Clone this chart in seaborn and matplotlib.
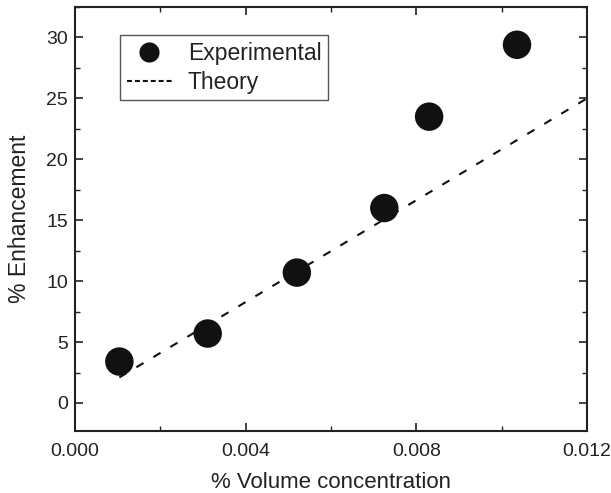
import matplotlib
matplotlib.use("Agg")
import matplotlib.pyplot as plt
import seaborn as sns
import pandas as pd
from matplotlib.lines import Line2D
from matplotlib.ticker import MultipleLocator, FormatStrFormatter

exp_x = [0.00104, 0.00311, 0.0052, 0.00725, 0.0083, 0.01036]
exp_y = [3.4, 5.7, 10.7, 16.0, 23.5, 29.4]
theory_x = [0.00104, 0.012]
theory_y = [2.1, 25.0]

sns.set_theme(style="ticks")
plt.rcParams['font.family'] = ['Liberation Sans', 'DejaVu Sans']

fig = plt.figure(figsize=(6.11, 4.93), dpi=100)
ax = fig.add_axes([75/611, 1-431/493, 512/611, 424/493])

df_t = pd.DataFrame({"x": theory_x, "y": theory_y})
df_e = pd.DataFrame({"x": exp_x, "y": exp_y})
sns.lineplot(data=df_t, x="x", y="y", ax=ax, color="#111111", linestyle=(0, (4.0, 5.5)),
             linewidth=1.5, legend=False)
sns.scatterplot(data=df_e, x="x", y="y", ax=ax, color="#111111", s=420,
                edgecolor="none", legend=False, zorder=3)

ax.set_xlim(0, 0.012)
ax.set_ylim(-2.3, 32.5)
ax.xaxis.set_major_locator(MultipleLocator(0.004))
ax.xaxis.set_minor_locator(MultipleLocator(0.002))
ax.xaxis.set_major_formatter(FormatStrFormatter('%.3f'))
ax.yaxis.set_major_locator(MultipleLocator(5))
ax.yaxis.set_minor_locator(MultipleLocator(2.5))
ax.tick_params(which='both', direction='in', top=True, right=True, labelsize=14, colors='#222222')
ax.tick_params(which='major', length=6, width=1.2)
ax.tick_params(which='minor', length=3.5, width=1.0)
for sp in ax.spines.values():
    sp.set_linewidth(1.5)
    sp.set_color('#222222')
ax.tick_params(axis='x', pad=8.5)
ax.tick_params(axis='y', pad=5)
ax.set_xlabel("% Volume concentration", fontsize=16, color='#222222', labelpad=9)
ax.set_ylabel("% Enhancement", fontsize=16.5, color='#222222', labelpad=11)

handles = [
    Line2D([], [], linestyle='none', marker='o', markersize=14.5, color='#111111', markeredgewidth=0),
    Line2D([], [], linestyle=(0, (2.4, 1.4)), linewidth=1.5, color='#111111'),
]
leg = ax.legend(handles, ["Experimental", "Theory"], loc='upper left',
                bbox_to_anchor=(0.088, 0.934), borderaxespad=0, fontsize=16.5, frameon=True,
                fancybox=False, edgecolor='#555555', framealpha=1, handlelength=1.95,
                borderpad=0.3, labelspacing=0.25, handletextpad=0.7)
leg.get_frame().set_linewidth(1.0)
for t in leg.get_texts():
    t.set_color('#222222')

fig.savefig("out.png", dpi=100)
